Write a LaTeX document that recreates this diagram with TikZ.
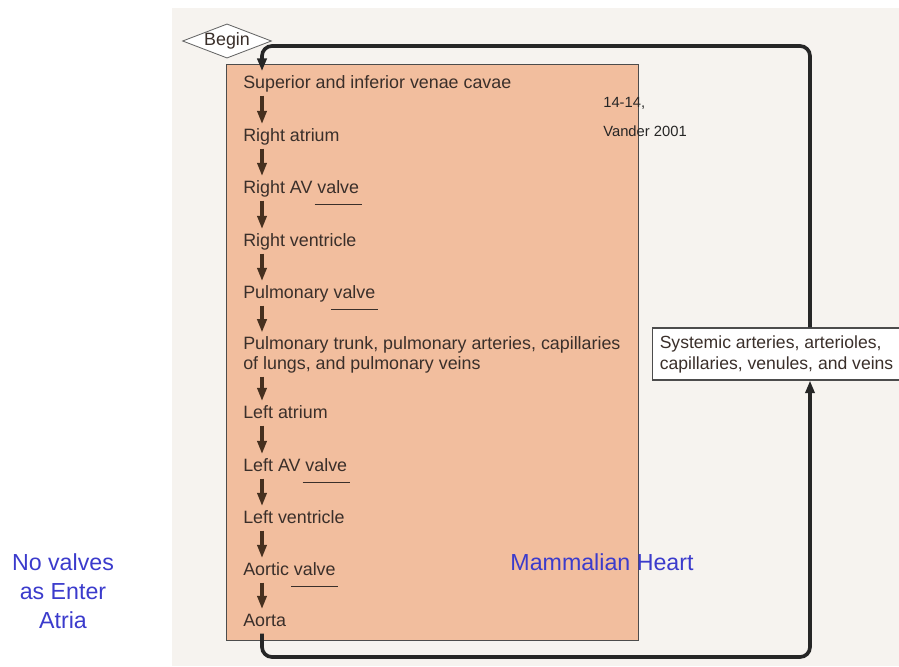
\documentclass[tikz,border=0pt]{standalone}
\usepackage{fontspec}
\setmainfont{Liberation Sans}
\usepackage{xcolor}
\usepackage{tikz}
\usetikzlibrary{arrows.meta, positioning, calc, shapes.geometric}
\definecolor{salmon}{HTML}{F2BE9E}
\definecolor{scanpaper}{HTML}{F6F3EF}
\definecolor{inkbrown}{HTML}{46301F}
\definecolor{textbrown}{HTML}{3A2F2A}
\definecolor{noteblue}{HTML}{3B3BCC}
\newcommand{\uvalve}[1]{\setbox0=\hbox{#1}\rlap{\kern-2pt\rule[-8.5pt]{\dimexpr\wd0+4pt\relax}{0.8pt}}\box0}

\begin{document}
\begin{tikzpicture}[
		x=0.025cm, y=-0.025cm,
		stagefont/.style={text=textbrown, font=\fontsize{12.7}{14.2}\selectfont, inner xsep=0pt, inner ysep=2.5pt},
		stage/.style={stagefont, anchor=base west, text height=9.3pt, text depth=2.8pt},
		flowarrow/.style={-{Triangle[width=6.5pt,length=9.5pt]}, line width=2.5pt, draw=inkbrown},
		returnline/.style={-{Triangle[width=6.5pt,length=9pt]}, line width=2.6pt, draw=black!85, rounded corners=0.25cm},
		bluelab/.style={text=noteblue, font=\fontsize{16.5}{20.6}\selectfont, align=center, inner sep=0pt}
		]
		\useasboundingbox (0,0) rectangle (899,666);
		
		% Paper and heart region
		\fill[scanpaper] (172,8) rectangle (899,666);
		\draw[fill=salmon, draw=black!70, line width=0.7pt] (226,64) rectangle (638,640);
		
		% Helper columns
		\coordinate (ax) at (262,0);
		\coordinate (rx) at (810,0);
		\coordinate (lo) at (0,657);
		\coordinate (hi) at (0,46);
		
		% Begin
		\node[diamond, aspect=2.6, draw=black!60, fill=white, inner sep=0pt, line width=0.6pt,
		text=textbrown, font=\fontsize{12.7}{14.2}\selectfont] (begin) at (227,41) {Begin};
		
		% Stages through the heart
		\node[stage] (sup) at (243,88) {Superior and inferior venae cavae};
		\node[stage] (ratr) at (243,141) {Right atrium};
		\node[stage] (ravv) at (243,193) {Right AV \uvalve{valve}};
		\node[stage] (rven) at (243,246) {Right ventricle};
		\node[stage] (pval) at (243,298) {Pulmonary \uvalve{valve}};
		\node[stagefont, anchor=north west, align=left] (ptrunk) at (243,332.5)
		{Pulmonary trunk, pulmonary arteries, capillaries\\of lungs, and pulmonary veins};
		\node[stage] (latr) at (243,418) {Left atrium};
		\node[stage] (lavv) at (243,471) {Left AV \uvalve{valve}};
		\node[stage] (lven) at (243,523) {Left ventricle};
		\node[stage] (aval) at (243,575) {Aortic \uvalve{valve}};
		\node[stage] (aorta) at (243,626) {Aorta};
		
		\foreach \a/\b in {sup/ratr, ratr/ravv, ravv/rven, rven/pval, pval/ptrunk,
			ptrunk/latr, latr/lavv, lavv/lven, lven/aval, aval/aorta}
		\draw[flowarrow] (\a.south -| ax) -- (\b.north -| ax);
		
		% Body circulation
		\node[anchor=west, draw=black!70, fill=white, line width=0.8pt, align=left,
		inner xsep=0.18cm, minimum height=1.3cm, text=textbrown,
		font=\fontsize{12.5}{14.9}\selectfont] (sys) at (652,354)
		{Systemic arteries, arterioles,\\capillaries, venules, and veins};
		
		\draw[returnline] (aorta.south -| ax) -- (ax |- lo) -- (rx |- lo) -- (sys.south -| rx);
		\draw[returnline] (sys.north -| rx) -- (rx |- hi) -- (ax |- hi) -- (sup.north -| ax);
		
		% Notes
		\node[anchor=north west, align=left, inner sep=0pt, text=black!85,
		font=\fontsize{10.5}{20.6}\selectfont] (fig) at (603,97) {14-14,\\Vander 2001};
		\node[bluelab] (mamm) at (602,562) {Mammalian Heart};
		\node[bluelab] (novalve) at (63,591) {No valves\\as Enter\\Atria};
		
	\end{tikzpicture}
\end{document}
